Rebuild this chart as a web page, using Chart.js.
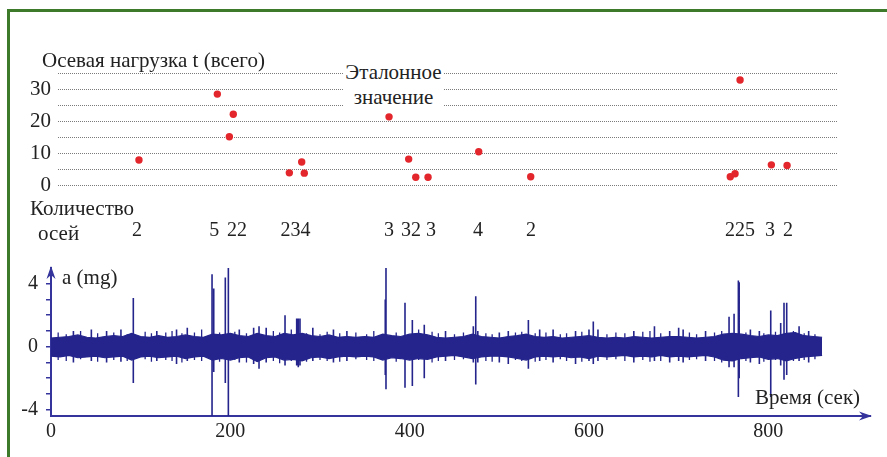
<!DOCTYPE html>
<html><head><meta charset="utf-8">
<script src="https://cdn.jsdelivr.net/npm/chart.js@4.4.1/dist/chart.umd.min.js"></script>
<style>
html,body{margin:0;padding:0;background:#fff;}
#wrap{position:relative;width:887px;height:457px;overflow:hidden;font-family:"Liberation Serif","DejaVu Serif",serif;color:#222;}
canvas{position:absolute;left:0;top:0;}
.frame{position:absolute;left:7px;top:9px;width:900px;height:500px;border-top:3px solid #3d7a2a;border-left:3px solid #3d7a2a;}
.lbl{position:absolute;font-size:21px;line-height:21px;white-space:nowrap;z-index:5;}
.ref{position:absolute;left:343px;top:60px;width:101px;font-size:21px;line-height:25px;text-align:center;background:#fff;z-index:5;}
</style></head><body>
<div id="wrap">
<div class="frame"></div>
<canvas id="top" width="887" height="457"></canvas>
<canvas id="bot" width="887" height="457"></canvas>
<div class="lbl" style="left:42px;top:50px;">Осевая нагрузка t (всего)</div>
<div class="ref">Эталонное<br>значение</div>
<div class="lbl" style="left:30px;top:198px;">Количество</div>
<div class="lbl" style="left:38px;top:223px;">осей</div>
<div class="lbl" style="left:62px;top:267px;">a (mg)</div>
<div class="lbl" style="left:755px;top:387px;">Время (сек)</div>
</div>
<script>
// ---- Top chart: axle load (t) vs time (s)
const loadTimes  = [98.1, 185.5, 198.9, 203.3, 265.8, 279.6, 282.5, 377.0, 398.9, 406.8, 420.5, 477.0, 535.0, 757.6, 762.9, 768.5, 803.4, 820.9];
const loadValues = [7.8, 28.4, 15.1, 22.1, 3.8, 7.2, 3.7, 21.3, 8.1, 2.4, 2.4, 10.4, 2.6, 2.6, 3.5, 32.8, 6.3, 6.1];
const loadTicks  = [0, 5, 10, 15, 20, 25, 30, 35];
const loadTickLabels = ['0', '', '10', '', '20', '', '30', ''];

// ---- Axle count labels
const axleTimes  = [95.9, 182.0, 207.5, 272.7, 377.0, 401.5, 423.8, 476.2, 535.4, 768.5, 801.9, 821.9];
const axleLabels = ['2', '5', '22', '234', '3', '32', '3', '4', '2', '225', '3', '2'];

// ---- Bottom chart: acceleration signal (mg) envelope, every 10 s
const envTimes = [0,10,20,30,40,50,60,70,80,90,100,110,120,130,140,150,160,170,180,190,200,210,220,230,240,250,260,270,280,290,300,310,320,330,340,350,360,370,380,390,400,410,420,430,440,450,460,470,480,490,500,510,520,530,540,550,560,570,580,590,600,610,620,630,640,650,660,670,680,690,700,710,720,730,740,750,760,770,780,790,800,810,820,830,840,850,860];
const envUpper = [0.55,0.6,0.65,0.75,0.6,0.55,0.65,0.7,0.65,0.85, 0.65,0.6,0.7,0.6,0.65,0.75,0.65,0.6,0.8,0.75, 0.85,0.7,0.65,0.85,0.7,0.65,0.85,0.75,0.85,0.7, 0.65,0.75,0.6,0.65,0.6,0.65,0.6,0.8,0.7,0.65, 0.8,0.85,0.75,0.6,0.55,0.6,0.65,0.8,0.65,0.6, 0.55,0.65,0.7,0.8,0.65,0.6,0.65,0.55,0.6,0.65, 0.7,0.6,0.55,0.6,0.55,0.65,0.6,0.55,0.6,0.65, 0.65,0.6,0.55,0.6,0.65,0.8,0.85,0.8,0.7,0.65, 0.75,0.7,0.85,0.9,0.7,0.65,0.6];
const envLower = [-0.6,-0.65,-0.55,-0.7,-0.65,-0.6,-0.7,-0.65,-0.6,-0.85, -0.65,-0.6,-0.7,-0.65,-0.6,-0.75,-0.65,-0.6,-0.85,-0.75, -0.85,-0.7,-0.65,-0.95,-0.7,-0.65,-0.85,-0.8,-0.9,-0.7, -0.65,-0.75,-0.65,-0.6,-0.65,-0.6,-0.65,-0.85,-0.7,-0.75, -0.85,-0.75,-0.8,-0.65,-0.6,-0.55,-0.65,-0.75,-0.65,-0.6, -0.6,-0.65,-0.75,-0.85,-0.65,-0.6,-0.65,-0.6,-0.7,-0.65, -0.75,-0.6,-0.65,-0.6,-0.55,-0.65,-0.6,-0.65,-0.55,-0.65, -0.6,-0.65,-0.6,-0.55,-0.65,-0.85,-0.9,-0.75,-0.7,-0.65, -0.8,-0.75,-0.9,-0.75,-0.65,-0.6,-0.55];

// ---- Spikes (vehicle axle passages)
const spikeTimes = [25,45,62,78,91.8,118,140,152,179.6,181.5,194.4,197.8,210,226,232,240,261,274,275.8,277.7,292,315,330,372.8,373.6,394.8,403,416.3,440,471,473.7,476,500,510,532.4,545,560,585,600,604.8,610,650,673,690,700,705,730,756.2,761.8,766.6,767.5,780,790,802.7,813.8,817.5,820.5,834.3,845];
const spikeLow   = [-1.0,-0.9,-1.0,-0.95,-2.3,-0.9,-1.1,-0.9,-4.4,-1.6,-2.3,-4.4,-1.0,-1.1,-1.4,-1.0,-1.2,-1.2,-1.3,-1.2,-0.9,-1.0,-0.9,-1.8,-2.7,-2.6,-2.5,-2.0,-0.9,-1.0,-2.4,-1.0,-1.0,-1.1,-1.4,-0.9,-1.0,-1.1,-0.9,-1.1,-0.9,-1.0,-0.9,-1.0,-0.9,-1.0,-0.9,-1.3,-1.3,-3.2,-2.0,-1.0,-1.1,-3.2,-1.2,-2.1,-1.8,-0.9,-1.0];
const spikeHigh  = [1.0,1.1,1.0,1.1,3.1,1.0,1.1,1.2,4.6,3.7,4.4,5.2,1.1,1.2,1.3,1.2,2.0,1.8,1.8,1.8,1.2,1.1,1.0,3.0,5.1,2.8,1.7,1.4,1.0,1.3,3.2,1.0,0.9,1.0,1.7,1.1,1.1,1.0,1.1,1.6,1.1,1.0,1.3,1.0,1.2,1.1,1.0,1.9,2.1,4.2,4.1,1.1,1.0,2.3,1.5,2.8,2.8,1.3,1.0];

// ---- Small noise bumps along the band edges
const bumpTimes = [8,17,33,52,70,85,105,112,128,135,146,160,168,188,205,218,248,255,268,285,300,308,322,340,352,360,385,410,425,432,450,460,485,492,518,525,540,552,568,575,592,620,630,640,660,668,680,712,720,740,748,775,795,808,828,840,852];
const bumpHigh  = [0.9,0.8,1.0,0.85,0.9, 0.8,0.95,0.85,0.9,1.0, 0.85,0.9,1.1,0.9,0.95, 0.85,1.0,0.9,1.1,0.85, 0.8,0.95,0.85,0.9,0.8, 1.0,0.9,1.1,0.95,0.85, 0.8,0.9,0.85,0.8,0.9, 0.95,0.85,0.9,0.8,0.85, 0.95,0.8,0.9,0.85,0.95, 1.0,0.85,0.9,0.8,0.9, 1.0,0.9,0.85,0.95,1.0, 0.85,0.8];
const bumpLow   = [-0.85,-0.9,-0.8,-0.95,-0.85, -0.9,-0.8,-0.95,-0.85,-0.9, -1.0,-0.85,-0.9,-0.95,-0.85, -1.0,-0.9,-1.05,-0.9,-0.95, -0.85,-0.9,-0.95,-0.8,-0.85, -0.9,-0.95,-0.85,-1.0,-0.9, -0.85,-0.8,-0.9,-0.95,-0.85, -0.9,-0.95,-0.85,-0.8,-0.9, -0.95,-0.85,-0.8,-0.9,-0.85, -0.95,-0.9,-0.85,-0.8,-0.9, -1.0,-0.9,-0.95,-0.85,-0.9, -0.85,-0.8];

const timeTicks = [0, 200, 400, 600, 800];
const accTicks  = [-4, -3, -2, -1, 0, 1, 2, 3, 4];
const accTickLabels = {'-4': '-4', '0': '0', '4': '4'};

const SIG = '#24248c';
const AXIS = '#34349c';
const TXT = '#222';
const FONT = '"Liberation Serif", "DejaVu Serif", serif';

// Top chart
new Chart(document.getElementById('top'), {
  type: 'scatter',
  data: {
    datasets: [{
      data: loadTimes.map((t, i) => ({x: t, y: loadValues[i]})),
      backgroundColor: '#e3262b',
      borderWidth: 0,
      pointRadius: 3.7
    }]
  },
  options: {
    responsive: false,
    animation: false,
    events: [],
    layout: {padding: {left: 0, right: 50, top: 73, bottom: 212}},
    plugins: {legend: {display: false}, tooltip: {enabled: false}},
    scales: {
      x: {
        type: 'linear', min: 7.8, max: 876.6,
        afterFit: s => { s.height = 60; },
        afterBuildTicks: s => { s.ticks = axleTimes.map(v => ({value: v})); },
        grid: {display: false, drawTicks: false},
        border: {display: false},
        ticks: {autoSkip: false, maxRotation: 0, padding: 34, color: TXT,
                font: {family: FONT, size: 20},
                callback: (v, i) => axleLabels[i]}
      },
      y: {
        min: 0, max: 35,
        afterFit: s => { s.width = 58; },
        afterBuildTicks: s => { s.ticks = loadTicks.map(v => ({value: v})); },
        grid: {color: '#7a7a7a', lineWidth: 1, drawTicks: false},
        border: {display: false, dash: [1, 1]},
        ticks: {autoSkip: false, padding: 7, color: TXT, font: {family: FONT, size: 21},
                callback: (v, i) => loadTickLabels[i]}
      }
    }
  }
});

// Bottom chart
const arrows = {
  id: 'arrows',
  afterDraw(chart) {
    const {ctx, chartArea: a} = chart;
    ctx.save();
    ctx.fillStyle = AXIS;
    ctx.beginPath();
    ctx.moveTo(a.right + 2, a.bottom);
    ctx.lineTo(a.right - 11, a.bottom - 4.5);
    ctx.lineTo(a.right - 7, a.bottom);
    ctx.lineTo(a.right - 11, a.bottom + 4.5);
    ctx.closePath(); ctx.fill();
    ctx.beginPath();
    ctx.moveTo(a.left, a.top - 2);
    ctx.lineTo(a.left - 4.5, a.top + 11);
    ctx.lineTo(a.left, a.top + 7);
    ctx.lineTo(a.left + 4.5, a.top + 11);
    ctx.closePath(); ctx.fill();
    ctx.restore();
  }
};

function segments(times, lows, highs) {
  const out = [];
  times.forEach((t, i) => { out.push({x: t, y: lows[i]}, {x: t, y: highs[i]}, {x: t, y: null}); });
  return out;
}

new Chart(document.getElementById('bot'), {
  type: 'scatter',
  data: {
    datasets: [
      {data: envTimes.map((t, i) => ({x: t, y: envUpper[i]})), showLine: true, fill: '+1',
       backgroundColor: SIG, borderColor: SIG, borderWidth: 1.2, pointRadius: 0, tension: 0},
      {data: envTimes.map((t, i) => ({x: t, y: envLower[i]})), showLine: true, fill: false,
       borderColor: SIG, borderWidth: 1.2, pointRadius: 0, tension: 0},
      {data: segments(bumpTimes, bumpLow, bumpHigh), showLine: true, spanGaps: false,
       borderColor: SIG, borderWidth: 1.3, pointRadius: 0},
      {data: segments(spikeTimes, spikeLow, spikeHigh), showLine: true, spanGaps: false,
       borderColor: SIG, borderWidth: 1.6, pointRadius: 0}
    ]
  },
  options: {
    responsive: false,
    animation: false,
    events: [],
    layout: {padding: {left: 0, right: 17, top: 268, bottom: 0}},
    plugins: {legend: {display: false}, tooltip: {enabled: false}},
    scales: {
      x: {
        type: 'linear', min: 0, max: 913.4,
        afterFit: s => { s.height = 41; },
        afterBuildTicks: s => { s.ticks = timeTicks.map(v => ({value: v})); },
        grid: {display: false, drawTicks: false},
        border: {display: true, color: AXIS, width: 2},
        ticks: {padding: 4, color: TXT, font: {family: FONT, size: 20}, maxRotation: 0, autoSkip: false}
      },
      y: {
        min: -4.4, max: 5.0,
        afterFit: s => { s.width = 51; },
        afterBuildTicks: s => { s.ticks = accTicks.map(v => ({value: v})); },
        grid: {drawOnChartArea: false, drawTicks: true, tickLength: 5, color: AXIS, lineWidth: 1.5},
        border: {display: true, color: AXIS, width: 2},
        ticks: {autoSkip: false, padding: 8, color: TXT, font: {family: FONT, size: 20},
                callback: v => accTickLabels[String(v)] || ''}
      }
    }
  },
  plugins: [arrows]
});
</script>
</body></html>
